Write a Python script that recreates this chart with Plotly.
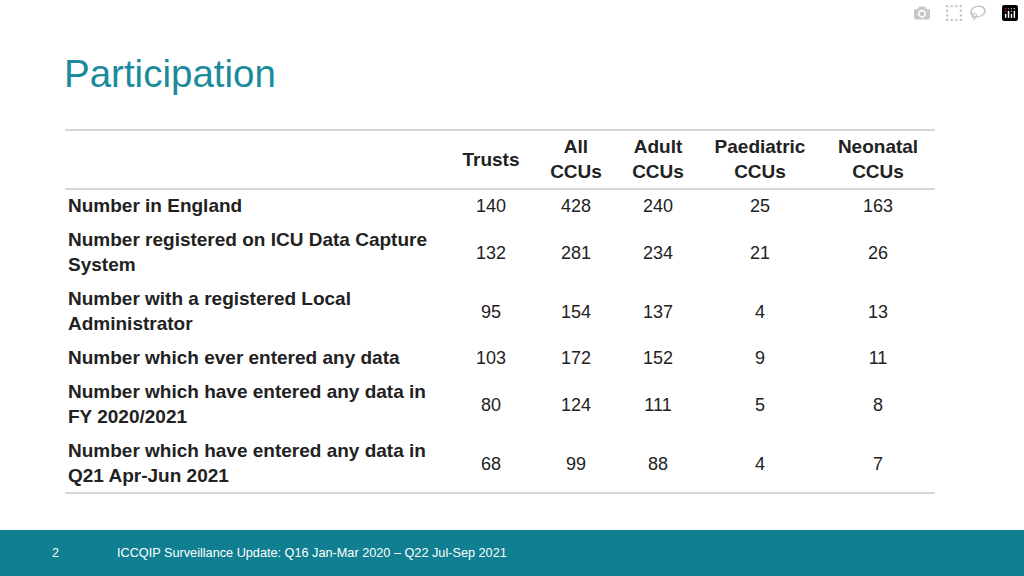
import plotly.graph_objects as go

columns = ["Trusts", "All<br>CCUs", "Adult<br>CCUs", "Paediatric<br>CCUs", "Neonatal<br>CCUs"]
row_labels = [
    "Number in England",
    "Number registered on ICU Data Capture<br>System",
    "Number with a registered Local<br>Administrator",
    "Number which ever entered any data",
    "Number which have entered any data in<br>FY 2020/2021",
    "Number which have entered any data in<br>Q21 Apr-Jun 2021",
]
trusts = [140, 132, 95, 103, 80, 68]
all_ccus = [428, 281, 154, 172, 124, 99]
adult_ccus = [240, 234, 137, 152, 111, 88]
paed_ccus = [25, 21, 4, 9, 5, 4]
neo_ccus = [163, 26, 13, 11, 8, 7]

col_x = [491, 576, 658, 760, 878]
row_y = [207, 254, 313, 359, 406, 465]
TEAL = "#0f7f91"
FONT = "Liberation Sans, Arial, sans-serif"

fig = go.Figure()
series = [trusts, all_ccus, adult_ccus, paed_ccus, neo_ccus]
for cx, vals in zip(col_x, series):
    fig.add_trace(go.Scatter(x=[cx] * len(vals), y=row_y, mode="text",
                             text=[str(v) for v in vals], textposition="middle center",
                             textfont=dict(family=FONT, size=18, color="#222"),
                             hoverinfo="skip", showlegend=False))

fig.add_trace(go.Scatter(x=col_x, y=[161] * 5, mode="text",
                         text=[f"<b>{c}</b>" for c in columns], textposition="middle center",
                         textfont=dict(family=FONT, size=19, color="#222"),
                         hoverinfo="skip", showlegend=False))

fig.add_trace(go.Scatter(x=[68] * len(row_labels), y=row_y, mode="text",
                         text=[f"<b>{r}</b>" for r in row_labels], textposition="middle right",
                         textfont=dict(family=FONT, size=19, color="#222"),
                         hoverinfo="skip", showlegend=False))

for y in [130, 189, 493]:
    fig.add_shape(type="line", x0=65, x1=935, y0=y, y1=y, line=dict(color="#b0b0b0", width=1.2))
fig.add_shape(type="rect", x0=0, x1=1024, y0=530, y1=576, fillcolor=TEAL, line_width=0, layer="below")

fig.add_annotation(x=62, y=73, text="Participation", showarrow=False, xanchor="left", yanchor="middle",
                   font=dict(family=FONT, size=38.5, color="#1b8b9b"))
fig.add_annotation(x=55, y=553, text="2", showarrow=False, xanchor="center",
                   font=dict(family=FONT, size=12.5, color="white"))
fig.add_annotation(x=115, y=553, text="ICCQIP Surveillance Update: Q16 Jan-Mar 2020 – Q22 Jul-Sep 2021",
                   showarrow=False, xanchor="left", font=dict(family=FONT, size=12.7, color="white"))

fig.update_layout(width=1024, height=576, margin=dict(l=0, r=0, t=0, b=0),
                  paper_bgcolor="white", plot_bgcolor="white",
                  xaxis=dict(range=[0, 1024], visible=False, fixedrange=True),
                  yaxis=dict(range=[576, 0], visible=False, fixedrange=True))
fig.write_html("out.html", post_script="document.body.style.margin='0';document.body.style.overflow='hidden';")
